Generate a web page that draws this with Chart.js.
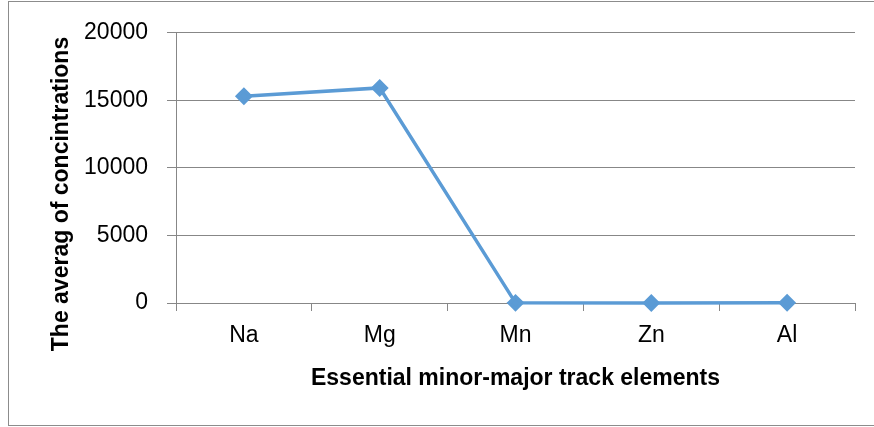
<!DOCTYPE html>
<html>
<head>
<meta charset="utf-8">
<script src="https://cdn.jsdelivr.net/npm/chart.js@4"></script>
<style>
  html, body { margin: 0; padding: 0; background: #fff; }
  canvas { display: block; }
</style>
</head>
<body>
<canvas id="myChart" width="874" height="427"></canvas>
<script>
const elements = ["Na", "Mg", "Mn", "Zn", "Al"];
const averages = [15310, 15920, 10, 5, 20];
const yTicks = [0, 5000, 10000, 15000, 20000];
const xTitle = "Essential minor-major track elements";
const yTitle = "The averag of concintrations";

const gray = "#878787";
Chart.defaults.font.family = "'Liberation Sans', Arial, sans-serif";
Chart.defaults.color = "#000";

// outer frame + rotated y title (kept off the scale so it can sit lower, like the original)
const frame = {
  id: "frame",
  beforeDraw(chart) {
    const c = chart.ctx;
    c.save();
    c.strokeStyle = "#8c8c8c";
    c.lineWidth = 1;
    c.strokeRect(8.5, 1.5, 900, 424);
    c.restore();
  },
  afterDraw(chart) {
    const c = chart.ctx;
    c.save();
    c.translate(68, 194);
    c.rotate(-Math.PI / 2);
    c.font = "bold 23px 'Liberation Sans', Arial, sans-serif";
    c.fillStyle = "#000";
    c.textAlign = "center";
    c.textBaseline = "alphabetic";
    c.fillText(yTitle, 0, 0);
    c.restore();
  },
};

const ctx = document.getElementById("myChart").getContext("2d");
const myChart = new Chart(ctx, {
  type: "line",
  data: {
    labels: elements,
    datasets: [
      {
        data: averages,
        borderColor: "#5b9bd5",
        backgroundColor: "#5b9bd5",
        borderWidth: 3.5,
        pointStyle: "rectRot",
        pointRadius: 6.5,
        pointHoverRadius: 6.5,
        tension: 0,
        clip: false,
      },
    ],
  },
  options: {
    responsive: false,
    animation: false,
    devicePixelRatio: 1,
    layout: { padding: { top: 30, right: 19, bottom: 0, left: 0 } },
    plugins: {
      legend: { display: false },
      tooltip: { enabled: false },
    },
    scales: {
      x: {
        offset: true,
        afterFit(scale) { scale.height = 124; },
        grid: {
          offset: true,
          drawOnChartArea: false,
          tickLength: 8,
          color: gray,
        },
        border: { display: true, color: gray },
        ticks: { font: { size: 23 }, padding: 11, maxRotation: 0 },
        title: {
          display: true,
          text: xTitle,
          font: { size: 23, weight: "bold" },
          padding: { top: 35, bottom: 35 },
        },
      },
      y: {
        min: 0,
        max: 20000,
        afterFit(scale) { scale.width = 176; },
        afterBuildTicks(scale) { scale.ticks = yTicks.map((v) => ({ value: v })); },
        grid: { color: gray, tickLength: 9 },
        border: { display: true, color: gray },
        ticks: { font: { size: 23 }, padding: 19, callback: (v) => String(v) },
      },
    },
  },
  plugins: [frame],
});
</script>
</body>
</html>
